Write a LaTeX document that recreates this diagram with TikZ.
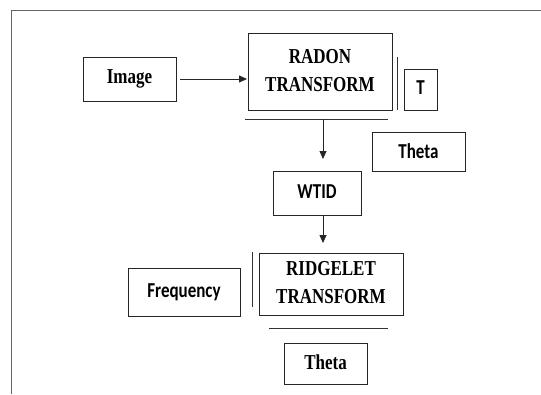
\documentclass[tikz,border=0pt]{standalone}
\usepackage{fontspec}
\usepackage{graphicx}
\setmainfont{Liberation Serif}
\newfontfamily\calfont{Carlito}
\usetikzlibrary{arrows.meta}
\newcommand{\vstr}[1]{\scalebox{1}[1.25]{#1}}
\newcommand{\twoline}[3]{\raisebox{#3}{\vstr{\begin{tabular}{@{}c@{}}#1\\#2\end{tabular}}}}
\begin{document}
\begin{tikzpicture}[x=1pt,y=-1pt,
  box/.style={draw=black!85,line width=0.8pt,inner sep=0pt,align=center},
  serifbox/.style={box,font=\fontsize{17}{22.5}\selectfont\bfseries},
  sansbox/.style={box,font=\fontsize{17}{22}\calfont\bfseries},
  frame/.style={draw=black!60,line width=1pt},
  bar/.style={draw=black!80,line width=0.8pt},
  arr/.style={draw=black!85,line width=0.8pt,-{Triangle[length=8pt,width=7pt]}}]
\useasboundingbox (0,0) rectangle (541,394);
% outer frame (top and left edges visible)
\coordinate (ftr) at (541,10);
\coordinate (ftl) at (11,10);
\coordinate (fbl) at (11,394);
\draw[frame] (ftr) -- (ftl) -- (fbl);
% boxes
\node[serifbox,minimum width=93pt,minimum height=44pt] (image) at (129.5,79) {\raisebox{2pt}{\vstr{Image}}};
\node[serifbox,minimum width=144pt,minimum height=77pt] (radon) at (320,71.5) {\twoline{RADON}{TRANSFORM}{4pt}};
\node[sansbox,minimum width=33pt,minimum height=41pt] (t) at (420.5,89.5) {\raisebox{4pt}{\vstr{T}}};
\node[sansbox,minimum width=93pt,minimum height=39pt] (theta1) at (418.5,151.5) {\raisebox{1pt}{\vstr{Theta}}};
\node[sansbox,minimum width=88pt,minimum height=44pt] (wtid) at (317,193) {\raisebox{2pt}{\vstr{WTID}}};
\node[serifbox,minimum width=144pt,minimum height=62pt] (ridgelet) at (331,284) {\twoline{RIDGELET}{TRANSFORM}{0pt}};
\node[sansbox,minimum width=112pt,minimum height=48pt] (freq) at (184,292) {\raisebox{1pt}{\vstr{Frequency}}};
\node[serifbox,minimum width=83pt,minimum height=41pt] (theta2) at (325.5,363.5) {\raisebox{2pt}{\vstr{Theta}}};
% bars
\coordinate (vr1) at (397,57);
\coordinate (vr2) at (397,110);
\draw[bar] (vr1) -- (vr2);
\coordinate (hr1) at (245,119);
\coordinate (hr2) at (388,119);
\draw[bar] (hr1) -- (hr2);
\coordinate (vl1) at (252,252);
\coordinate (vl2) at (252,307);
\draw[bar] (vl1) -- (vl2);
\coordinate (hl1) at (269,328);
\coordinate (hl2) at (388,328);
\draw[bar] (hl1) -- (hl2);
% arrows
\coordinate (a1s) at (180,79);
\coordinate (a1e) at (247,79);
\draw[arr] (a1s) -- (a1e);
\coordinate (a2s) at (323,119);
\coordinate (a2e) at (323,159);
\draw[arr] (a2s) -- (a2e);
\coordinate (a3s) at (323,215);
\coordinate (a3e) at (323,243);
\draw[arr] (a3s) -- (a3e);
\end{tikzpicture}
\end{document}
